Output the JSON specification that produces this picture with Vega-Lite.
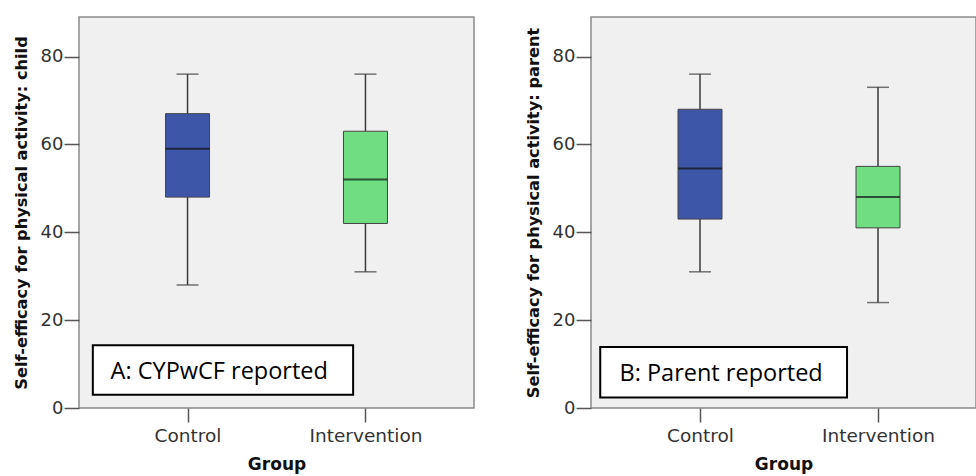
{
  "$schema": "https://vega.github.io/schema/vega-lite/v6.json",
  "padding": {"left": 12, "top": 16, "right": 0, "bottom": 0},
  "background": "white",
  "bounds": "flush",
  "spacing": 117,
  "datasets": {
    "childStats": [
      {"group": "Control", "min": 28, "q1": 48, "median": 59, "q3": 67, "max": 76},
      {"group": "Intervention", "min": 31, "q1": 42, "median": 52, "q3": 63, "max": 76}
    ],
    "parentStats": [
      {"group": "Control", "min": 31, "q1": 43, "median": 54.5, "q3": 68, "max": 76},
      {"group": "Intervention", "min": 24, "q1": 41, "median": 48, "q3": 55, "max": 73}
    ],
    "childNote": [{"label": "A: CYPwCF reported", "x1": 0.035, "x2": 0.694, "y1": 3, "y2": 14.3, "tx": 0.08, "ty": 6.6}],
    "parentNote": [{"label": "B: Parent reported", "x1": 0.024, "x2": 0.665, "y1": 2.4, "y2": 13.9, "tx": 0.074, "ty": 6.2}]
  },
  "config": {
    "view": {"fill": "#f0f0f0", "stroke": "#8a8a8a", "strokeWidth": 1.5},
    "axis": {
      "labelFont": "DejaVu Sans", "labelFontSize": 18, "labelColor": "#333333",
      "titleFont": "DejaVu Sans", "titleFontWeight": "bold", "titleColor": "#111111",
      "tickColor": "#555555", "tickWidth": 1.5, "grid": false
    }
  },
  "hconcat": [
    {
      "width": 395, "height": 391,
      "layer": [
        {
          "data": {"name": "childStats"},
          "layer": [
            {"mark": {"type": "rule", "color": "#3a3a3a", "strokeWidth": 1.5},
             "encoding": {"y": {"field": "min", "type": "quantitative"}, "y2": {"field": "max"}}},
            {"transform": [{"fold": ["min", "max"], "as": ["stat", "val"]}],
             "mark": {"type": "tick", "orient": "horizontal", "size": 22, "thickness": 1.5, "color": "#3a3a3a"},
             "encoding": {"y": {"field": "val", "type": "quantitative"}}},
            {"mark": {"type": "bar", "size": 44, "stroke": "#444444", "strokeWidth": 1},
             "encoding": {"y": {"field": "q1", "type": "quantitative"}, "y2": {"field": "q3"},
               "color": {"field": "group", "type": "nominal", "legend": null,
                 "scale": {"domain": ["Control", "Intervention"], "range": ["#3e56a8", "#70dd82"]}}}},
            {"mark": {"type": "tick", "orient": "horizontal", "size": 44, "thickness": 2, "color": "#111111"},
             "encoding": {"y": {"field": "median", "type": "quantitative"}}}
          ],
          "encoding": {
            "x": {"field": "group", "type": "nominal", "sort": null, "title": "Group",
              "scale": {"type": "point", "padding": 0.61},
              "axis": {"labelAngle": 0, "domain": false, "tickSize": 14, "labelPadding": 4, "labelFontSize": 18.5, "titleFontSize": 17, "titlePadding": 12}},
            "y": {"scale": {"domain": [0, 89], "nice": false},
              "axis": {"values": [0, 20, 40, 60, 80], "tickSize": 15, "labelPadding": 1, "domain": false,
                "title": "Self-efficacy for physical activity: child", "titleFontSize": 16.2, "titlePadding": 11}}
          }
        },
        {
          "data": {"name": "childNote"},
          "layer": [
            {"mark": {"type": "rect", "fill": "white", "stroke": "black", "strokeWidth": 2},
             "encoding": {"x": {"field": "x1", "type": "quantitative", "scale": {"domain": [0, 1]}, "axis": null},
               "x2": {"field": "x2"}, "y": {"field": "y1", "type": "quantitative"}, "y2": {"field": "y2"}}},
            {"mark": {"type": "text", "align": "left", "baseline": "alphabetic", "font": "Open Sans", "fontSize": 23.5, "color": "black"},
             "encoding": {"x": {"field": "tx", "type": "quantitative", "scale": {"domain": [0, 1]}, "axis": null},
               "y": {"field": "ty", "type": "quantitative"}, "text": {"field": "label"}}}
          ]
        }
      ],
      "resolve": {"scale": {"x": "independent"}, "axis": {"x": "independent"}}
    },
    {
      "width": 385, "height": 391,
      "layer": [
        {
          "data": {"name": "parentStats"},
          "layer": [
            {"mark": {"type": "rule", "color": "#3a3a3a", "strokeWidth": 1.5},
             "encoding": {"y": {"field": "min", "type": "quantitative"}, "y2": {"field": "max"}}},
            {"transform": [{"fold": ["min", "max"], "as": ["stat", "val"]}],
             "mark": {"type": "tick", "orient": "horizontal", "size": 22, "thickness": 1.5, "color": "#3a3a3a"},
             "encoding": {"y": {"field": "val", "type": "quantitative"}}},
            {"mark": {"type": "bar", "size": 44, "stroke": "#444444", "strokeWidth": 1},
             "encoding": {"y": {"field": "q1", "type": "quantitative"}, "y2": {"field": "q3"},
               "color": {"field": "group", "type": "nominal", "legend": null,
                 "scale": {"domain": ["Control", "Intervention"], "range": ["#3e56a8", "#70dd82"]}}}},
            {"mark": {"type": "tick", "orient": "horizontal", "size": 44, "thickness": 2, "color": "#111111"},
             "encoding": {"y": {"field": "median", "type": "quantitative"}}}
          ],
          "encoding": {
            "x": {"field": "group", "type": "nominal", "sort": null, "title": "Group",
              "scale": {"type": "point", "padding": 0.5815, "align": 0.5266},
              "axis": {"labelAngle": 0, "domain": false, "tickSize": 14, "labelPadding": 4, "labelFontSize": 18.5, "titleFontSize": 17, "titlePadding": 12}},
            "y": {"scale": {"domain": [0, 89], "nice": false},
              "axis": {"values": [0, 20, 40, 60, 80], "tickSize": 15, "labelPadding": 1, "domain": false,
                "title": "Self-efficacy for physical activity: parent", "titleFontSize": 16.2, "titlePadding": 11}}
          }
        },
        {
          "data": {"name": "parentNote"},
          "layer": [
            {"mark": {"type": "rect", "fill": "white", "stroke": "black", "strokeWidth": 2},
             "encoding": {"x": {"field": "x1", "type": "quantitative", "scale": {"domain": [0, 1]}, "axis": null},
               "x2": {"field": "x2"}, "y": {"field": "y1", "type": "quantitative"}, "y2": {"field": "y2"}}},
            {"mark": {"type": "text", "align": "left", "baseline": "alphabetic", "font": "Open Sans", "fontSize": 23.5, "color": "black"},
             "encoding": {"x": {"field": "tx", "type": "quantitative", "scale": {"domain": [0, 1]}, "axis": null},
               "y": {"field": "ty", "type": "quantitative"}, "text": {"field": "label"}}}
          ]
        }
      ],
      "resolve": {"scale": {"x": "independent"}, "axis": {"x": "independent"}}
    }
  ]
}
